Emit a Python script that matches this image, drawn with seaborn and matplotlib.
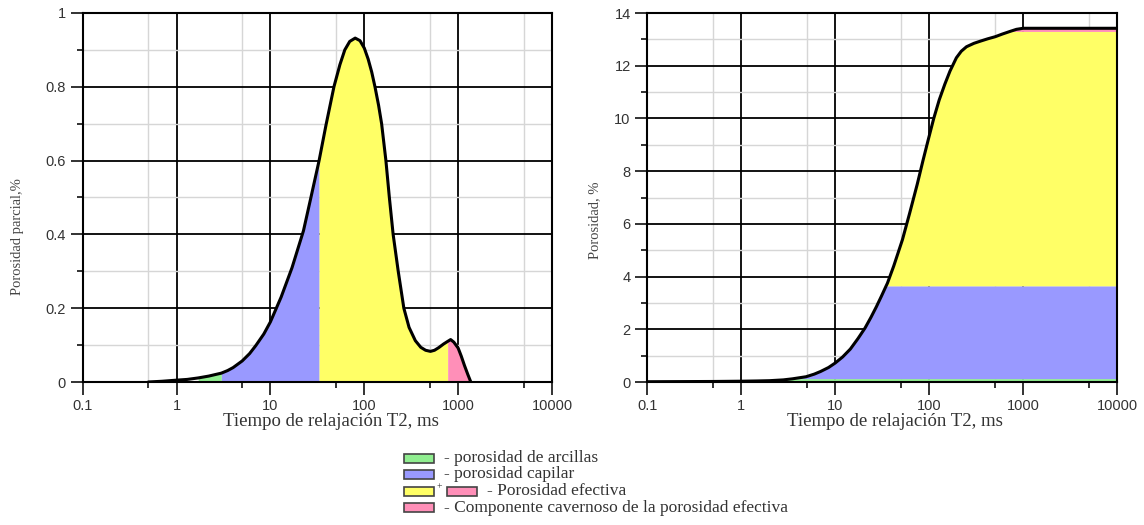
import numpy as np
import pandas as pd
import seaborn as sns
from matplotlib import pyplot as plt
from matplotlib.patches import Rectangle
from matplotlib.ticker import FixedLocator, NullFormatter

# partial porosity (T2 distribution)
t2_part = [0.5, 0.7, 1, 1.3, 1.7, 2.2, 3, 3.5, 4, 5, 6, 7, 8.5, 10, 13, 17,
           22.5, 27, 33, 39, 47.5, 55, 62, 70, 80, 90, 100, 110, 120, 130,
           142, 153, 170, 185, 203, 230, 264, 300, 350, 400, 450, 507, 560,
           620, 700, 773, 832, 900, 1000, 1080, 1167, 1270, 1365]
por_part = [0.0, 0.002, 0.005, 0.007, 0.011, 0.016, 0.024, 0.031, 0.039,
            0.057, 0.077, 0.099, 0.13, 0.163, 0.23, 0.31, 0.41, 0.5, 0.6,
            0.695, 0.8, 0.86, 0.9, 0.923, 0.932, 0.925, 0.905, 0.875, 0.84,
            0.8, 0.75, 0.7, 0.6, 0.5, 0.4, 0.3, 0.2, 0.148, 0.112, 0.094,
            0.086, 0.083, 0.086, 0.093, 0.103, 0.11, 0.115, 0.108, 0.092,
            0.07, 0.045, 0.02, 0.0]

# cumulative porosity
t2_cum = [0.1, 0.5, 1, 1.5, 2, 2.8, 3.5, 4.9, 6, 7, 8.5, 10, 12, 14.5, 17.5,
          20.8, 24, 27.4, 31, 34.4, 36, 42, 52, 62, 74.7, 86, 98, 112, 128,
          147, 167, 195, 220, 250, 300, 350, 420, 505, 600, 725, 850, 1000,
          10000]
por_cum = [0.01, 0.02, 0.03, 0.04, 0.05, 0.08, 0.12, 0.2, 0.3, 0.4, 0.55,
           0.72, 0.95, 1.25, 1.65, 2.05, 2.45, 2.85, 3.25, 3.6, 3.75, 4.4,
           5.4, 6.4, 7.5, 8.4, 9.2, 10.0, 10.7, 11.3, 11.8, 12.3, 12.55,
           12.72, 12.85, 12.93, 13.02, 13.1, 13.2, 13.3, 13.38, 13.42, 13.42]

# T2 cut-offs between the porosity components, ms
cut_clay = [1.7, 3]
cut_cap = [3, 33]
cut_eff = [33, 773]
cut_cav = [773, 1365]
# cumulative levels of the components, %
lvl_clay = 0.13
lvl_cap = 3.65
lvl_eff = 13.3
lvl_total = 13.42

col_clay = "#90ee90"
col_cap = "#9999ff"
col_eff = "#ffff66"
col_cav = "#ff8fb8"

x_ticks = [0.1, 1, 10, 100, 1000, 10000]
x_ticklabels = ["0.1", "1", "10", "100", "1000", "10000"]
x_minor = [0.5, 5, 50, 500, 5000]
xlabel = "Tiempo de relajación T2, ms"

legend_rows = [
    ([col_clay], "- porosidad de arcillas"),
    ([col_cap], "- porosidad capilar"),
    ([col_eff, col_cav], "- Porosidad efectiva"),
    ([col_cav], "- Componente cavernoso de la porosidad efectiva"),
]

sns.set_style("white")
plt.rcParams["font.family"] = ["Liberation Sans", "DejaVu Sans"]

W, H = 1144, 525
fig = plt.figure(figsize=(W / 100, H / 100), dpi=100)


def fx(px):
    return px / W


def fy(py):
    return 1 - py / H


ax1 = fig.add_axes([fx(82.7), fy(382), fx(469.3), 369 / H])
ax2 = fig.add_axes([fx(647.3), fy(382), fx(469.7), 369 / H])

part = pd.DataFrame({"t2": t2_part, "por": por_part})
cum = pd.DataFrame({"t2": t2_cum, "por": por_cum})


def style_axes(ax, ymax):
    ax.set_xscale("log")
    ax.set_xlim(0.1, 10000)
    ax.set_ylim(0, ymax)
    ax.xaxis.set_major_locator(FixedLocator(x_ticks))
    ax.set_xticklabels(x_ticklabels)
    ax.xaxis.set_minor_locator(FixedLocator(x_minor))
    ax.xaxis.set_minor_formatter(NullFormatter())
    ax.set_axisbelow(True)
    ax.grid(which="minor", color="#d6d6d6", lw=1.0)
    ax.grid(which="major", color="black", lw=1.3)
    ax.tick_params(which="both", bottom=True, left=True, top=False,
                   right=False)
    ax.tick_params(which="major", direction="out", length=9, width=1.3,
                   color="#222", labelsize=10.5, labelcolor="#333", pad=3)
    ax.tick_params(which="minor", direction="out", length=4.5, width=1.3,
                   color="#222")
    for s in ax.spines.values():
        s.set_color("black")
        s.set_linewidth(1.5)


# left: partial porosity
style_axes(ax1, 1)
ax1.set_yticks(np.arange(0, 1.01, 0.2))
ax1.set_yticklabels(["0", "0.2", "0.4", "0.6", "0.8", "1"])
ax1.set_yticks(np.arange(0.1, 1.0, 0.2), minor=True)
for (lo, hi), col in [(cut_clay, col_clay), (cut_cap, col_cap),
                      (cut_eff, col_eff), (cut_cav, col_cav)]:
    seg = part[(part.t2 >= lo) & (part.t2 <= hi)]
    ax1.fill_between(seg.t2, 0, seg.por, color=col, lw=0, zorder=1)
sns.lineplot(data=part, x="t2", y="por", ax=ax1, color="black", lw=2.2,
             sort=False, zorder=5)
ax1.set_xlabel(xlabel, family="Liberation Serif", fontsize=13.5, color="#333")
ax1.xaxis.set_label_coords(0.53, -0.085)
ax1.set_ylabel("Porosidad parcial,%", family="Liberation Serif",
               fontsize=10.5, color="#444")
ax1.yaxis.set_label_coords(-0.125, 0.393)

# right: cumulative porosity
style_axes(ax2, 14)
ax2.set_yticks(np.arange(0, 15, 2))
ax2.set_yticks(np.arange(1, 14, 2), minor=True)
c = cum.por.to_numpy()
t = cum.t2.to_numpy()
m = t >= cut_clay[0]
ax2.fill_between(t[m], 0, np.minimum(c[m], lvl_clay), color=col_clay, lw=0)
m = t >= cut_cap[0]
ax2.fill_between(t[m], lvl_clay, np.clip(c[m], lvl_clay, lvl_cap),
                 color=col_cap, lw=0)
ax2.fill_between(t, lvl_cap, np.clip(c, lvl_cap, lvl_eff), color=col_eff, lw=0)
ax2.fill_between(t, lvl_eff, np.clip(c, lvl_eff, lvl_total), color=col_cav,
                 lw=0)
sns.lineplot(data=cum, x="t2", y="por", ax=ax2, color="black", lw=2.2,
             sort=False, zorder=5)
ax2.set_xlabel(xlabel, family="Liberation Serif", fontsize=13.5, color="#333")
ax2.xaxis.set_label_coords(0.527, -0.085)
ax2.set_ylabel("Porosidad, %", family="Liberation Serif", fontsize=10.5,
               color="#444")
ax2.yaxis.set_label_coords(-0.099, 0.439)

# legend built by hand, as in the original
row_y = [458, 474.5, 491, 507.5]
for (cols, label), yy in zip(legend_rows, row_y):
    x0 = 404
    for i, col in enumerate(cols):
        if i > 0:
            fig.text(fx(x0 + 2), fy(yy - 4), "+", fontsize=7, color="#333",
                     family="Liberation Serif", va="center")
            x0 += 12
        fig.add_artist(Rectangle((fx(x0), fy(yy + 4.5)), fx(30), 9 / H,
                                 facecolor=col, edgecolor="#444", lw=1.2,
                                 transform=fig.transFigure))
        x0 += 31
    fig.text(fx(x0 + 9), fy(yy), label, fontsize=12.5, color="#333",
             family="Liberation Serif", va="center")

fig.savefig("out.png", dpi=100)
